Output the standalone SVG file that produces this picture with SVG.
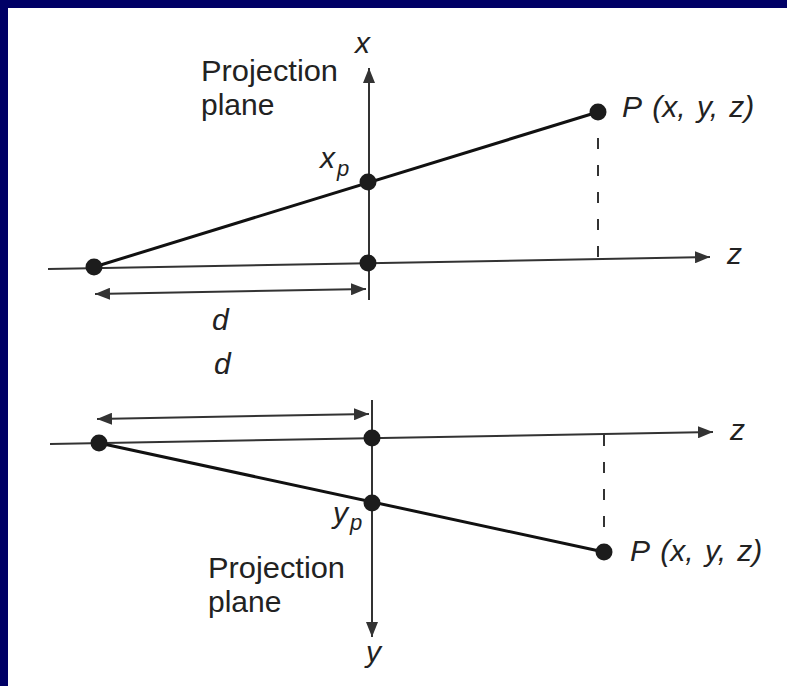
<svg xmlns="http://www.w3.org/2000/svg" width="787" height="686" viewBox="0 0 787 686">
<style>
.axis{stroke:#333;stroke-width:2;fill:none}
.proj{stroke:#111;stroke-width:3;fill:none}
.dash{stroke:#333;stroke-width:2;stroke-dasharray:11 16;fill:none}
.dot{fill:#1c1c1c}
.lbl{font-family:"Liberation Sans",Arial,sans-serif;font-size:30px;fill:#222}
.it{font-family:"Liberation Sans",Arial,sans-serif;font-size:30px;font-style:italic;fill:#222}
.pl{word-spacing:3px}
.sub{font-family:"Liberation Sans",Arial,sans-serif;font-size:22px;font-style:italic;fill:#222}
</style>
<defs>
<marker id="ah" viewBox="0 0 15 12" refX="15" refY="6" markerWidth="15" markerHeight="12" markerUnits="userSpaceOnUse" orient="auto-start-reverse">
<path d="M0,0 L15,6 L0,12 Z" fill="#333"/>
</marker>
</defs>
<rect x="0" y="0" width="787" height="686" fill="#000066"/>
<rect x="8" y="8" width="779" height="678" fill="#ffffff"/>
<g id="connectors">
<line class="axis" x1="48" y1="269" x2="710" y2="257" marker-end="url(#ah)"/>
<line class="axis" x1="369" y1="300" x2="369" y2="68" marker-end="url(#ah)"/>
<line class="proj" x1="94" y1="267" x2="598" y2="112"/>
<line class="dash" x1="598" y1="138" x2="598" y2="260"/>
<line class="axis" x1="95" y1="294" x2="366" y2="289" marker-start="url(#ah)" marker-end="url(#ah)"/>
<line class="axis" x1="50" y1="444" x2="713" y2="432" marker-end="url(#ah)"/>
<line class="axis" x1="372" y1="400" x2="372" y2="637" marker-end="url(#ah)"/>
<line class="proj" x1="99" y1="443" x2="604" y2="552"/>
<line class="dash" x1="604" y1="435" x2="604" y2="527"/>
<line class="axis" x1="97" y1="419" x2="369" y2="414" marker-start="url(#ah)" marker-end="url(#ah)"/>
</g>
<g id="top-eye"><circle class="dot" cx="94" cy="267" r="8.5"/></g>
<g id="top-origin"><circle class="dot" cx="368" cy="263" r="8.5"/></g>
<g id="top-xp"><circle class="dot" cx="368" cy="182" r="8.5"/>
<text class="it" x="320" y="168">x</text><text class="sub" x="337" y="176">p</text></g>
<g id="top-P"><circle class="dot" cx="598" cy="112" r="8.5"/>
<text class="it pl" x="622" y="117">P (x, y, z)</text></g>
<g id="top-labels">
<text class="it" x="355" y="53">x</text>
<text class="it" x="727" y="264">z</text>
<text class="it" x="212" y="330">d</text>
<text class="lbl" x="201" y="81" textLength="137" lengthAdjust="spacingAndGlyphs">Projection</text>
<text class="lbl" x="201" y="115">plane</text>
</g>
<g id="bot-eye"><circle class="dot" cx="99" cy="443" r="8.5"/></g>
<g id="bot-origin"><circle class="dot" cx="372" cy="438" r="8.5"/></g>
<g id="bot-yp"><circle class="dot" cx="372" cy="503" r="8.5"/>
<text class="it" x="333" y="523">y</text><text class="sub" x="350" y="530">p</text></g>
<g id="bot-P"><circle class="dot" cx="604" cy="552" r="8.5"/>
<text class="it pl" x="630" y="561">P (x, y, z)</text></g>
<g id="bot-labels">
<text class="it" x="214" y="374">d</text>
<text class="it" x="730" y="440">z</text>
<text class="it" x="366" y="662">y</text>
<text class="lbl" x="208" y="578" textLength="137" lengthAdjust="spacingAndGlyphs">Projection</text>
<text class="lbl" x="208" y="612">plane</text>
</g>
</svg>
